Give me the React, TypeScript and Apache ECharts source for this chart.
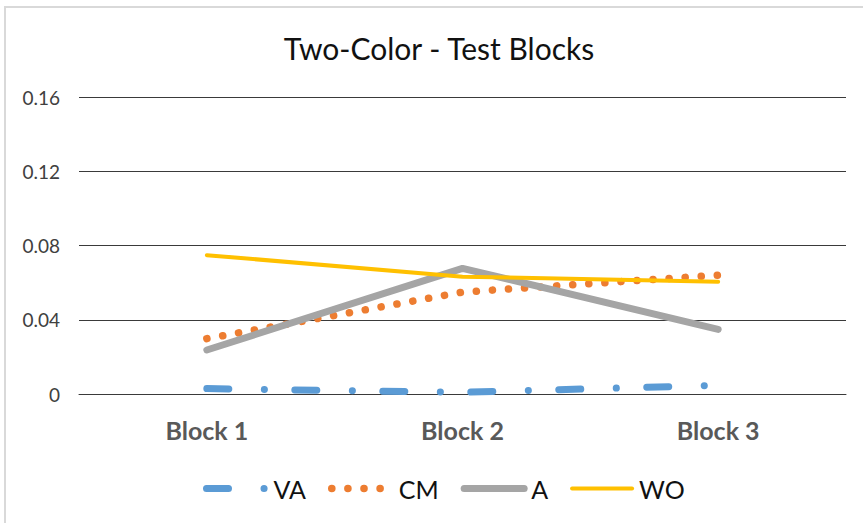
import React, { useEffect, useRef } from 'react';
import * as echarts from 'echarts';

const categories = ['Block 1', 'Block 2', 'Block 3'];
const seriesNames = ['VA', 'CM', 'A', 'WO'];
const vaValues = [0.0029, 0.0009, 0.0047];
const cmValues = [0.0298, 0.0549, 0.064];
const aValues = [0.0237, 0.0677, 0.0348];
const woValues = [0.0748, 0.0632, 0.0605];
const yMin = 0;
const yMax = 0.16;
const yInterval = 0.04;

const FONT = 'Lato, "Open Sans", sans-serif';

export default function App() {
  const ref = useRef<HTMLDivElement>(null);
  useEffect(() => {
    const chart = echarts.init(ref.current!, null, { renderer: 'svg' });
    chart.setOption({
      animation: false,
      backgroundColor: '#ffffff',
      title: {
        text: 'Two-Color - Test Blocks',
        left: 434,
        top: 28,
        textAlign: 'center',
        textStyle: { fontFamily: FONT, fontSize: 30, fontWeight: 'normal', color: '#111' },
      },
      graphic: [
        {
          type: 'rect',
          silent: true,
          z: -10,
          shape: { x: 5, y: 7, width: 900, height: 600 },
          style: { fill: 'none', stroke: '#d9d9d9', lineWidth: 2 },
        },
      ],
      grid: { left: 79, right: 17, top: 97, bottom: 129, containLabel: false },
      legend: {
        data: seriesNames,
        left: 198,
        top: 471,
        itemWidth: 60,
        itemHeight: 14,
        itemGap: 22,
        itemStyle: { opacity: 0 },
        lineStyle: { width: 'inherit' },
        textStyle: { fontFamily: FONT, fontSize: 25, color: '#111', padding: [0, 0, 0, 2] },
      },
      xAxis: {
        type: 'category',
        data: categories,
        boundaryGap: true,
        axisLine: { show: true, lineStyle: { color: '#3a3a3a', width: 1 } },
        axisTick: { show: false },
        axisLabel: { fontFamily: FONT, fontSize: 25, fontWeight: 'bold', color: '#595959', margin: 23 },
        splitLine: { show: false },
      },
      yAxis: {
        type: 'value',
        min: yMin,
        max: yMax,
        interval: yInterval,
        axisLine: { show: false },
        axisTick: { show: false },
        axisLabel: { fontFamily: FONT, fontSize: 19, color: '#404040', margin: 19 },
        splitLine: { show: true, lineStyle: { color: '#3a3a3a', width: 1 } },
      },
      series: [
        {
          name: 'VA',
          type: 'line',
          data: vaValues,
          symbol: 'none',
          silent: true,
          lineStyle: { color: '#5B9BD5', width: 7, type: [22, 35.5, 0.1, 30.4], cap: 'round' },
          itemStyle: { color: '#5B9BD5' },
        },
        {
          name: 'CM',
          type: 'line',
          data: cmValues,
          symbol: 'none',
          silent: true,
          lineStyle: { color: '#ED7D31', width: 7.5, type: [0.1, 16], cap: 'round' },
          itemStyle: { color: '#ED7D31' },
        },
        {
          name: 'A',
          type: 'line',
          data: aValues,
          symbol: 'none',
          silent: true,
          lineStyle: { color: '#A5A5A5', width: 7, cap: 'round' },
          itemStyle: { color: '#A5A5A5' },
        },
        {
          name: 'WO',
          type: 'line',
          data: woValues,
          symbol: 'none',
          silent: true,
          lineStyle: { color: '#FFC000', width: 4, cap: 'round' },
          itemStyle: { color: '#FFC000' },
        },
      ],
    });
    return () => chart.dispose();
  }, []);
  return (
    <div
      ref={ref}
      style={{ position: 'fixed', left: 0, top: 0, width: 863, height: 523, background: '#fff' }}
    />
  );
}
